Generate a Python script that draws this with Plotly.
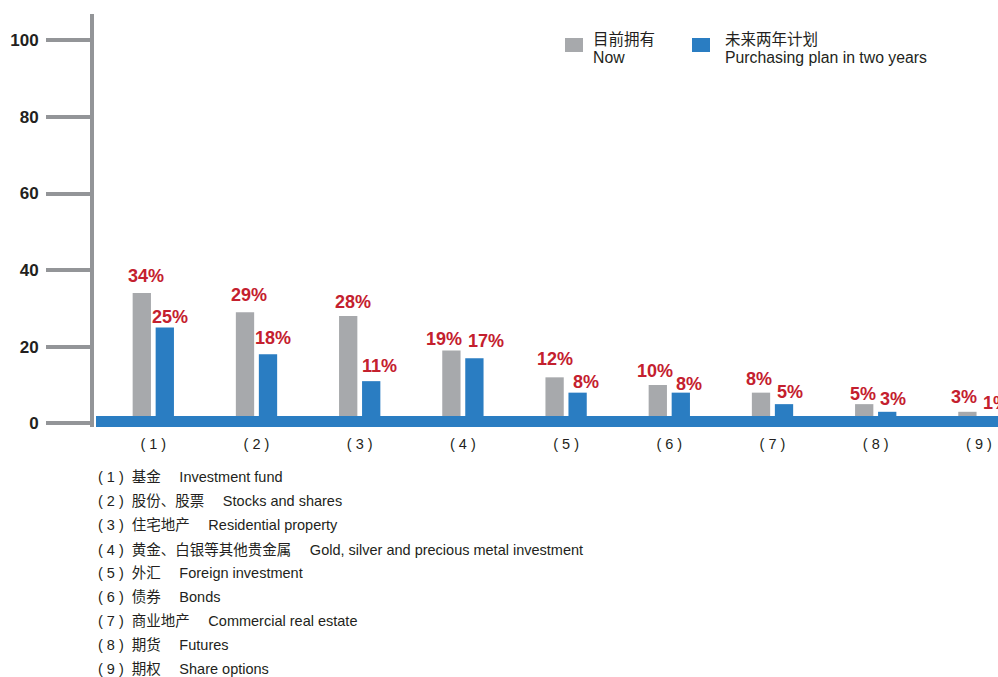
import plotly.graph_objects as go

# Survey results: share of respondents per investment type
categories = [1, 2, 3, 4, 5, 6, 7, 8, 9]
tick_labels = ["( 1 )", "( 2 )", "( 3 )", "( 4 )", "( 5 )", "( 6 )", "( 7 )", "( 8 )", "( 9 )"]
now_values = [34, 29, 28, 19, 12, 10, 8, 5, 3]
plan_values = [25, 18, 11, 17, 8, 8, 5, 3, 1]

series_names = [("目前拥有", "Now"), ("未来两年计划", "Purchasing plan in two years")]

item_names_cn = ["基金", "股份、股票", "住宅地产", "黄金、白银等其他贵金属", "外汇",
                 "债券", "商业地产", "期货", "期权"]
item_names_en = ["Investment fund", "Stocks and shares", "Residential property",
                 "Gold, silver and precious metal investment", "Foreign investment",
                 "Bonds", "Commercial real estate", "Futures", "Share options"]

y_ticks = [0, 20, 40, 60, 80, 100]

# Styling
GREY = "#a7a9ac"
BLUE = "#2a7dc2"
RED = "#c4202e"
AXIS_GREY = "#939598"
TEXT = "#231f20"
FONT = "Liberation Sans, Arial, Noto Sans CJK SC, sans-serif"

# hand-tuned nudges (px) for the value labels so neighbours don't collide
NOW_LABEL_DX = [4, 4, 5, -7, 0, -3, -2, -1, -3]
NOW_LABEL_GAP = [10, 10, 7, 5, 11, 7, 7, 3, 8]
PLAN_LABEL_DX = [5, 5, 8, 12, 8, 8, 6, 6, 6]
PLAN_LABEL_GAP = [4, 9, 8, 10, 4, 2, 5, 6, 9]
LABEL_PAD = 5

W, H = 998, 677
M_L, M_R, M_T, M_B = 94, 0, 14, 250
PLOT_W = W - M_L - M_R
PLOT_H = H - M_T - M_B

X_RANGE = [0.4254, 9.185]
Y_RANGE = [-0.97, 106.87]
BAR_W = 0.1773
GREY_OFF = -0.2001
BLUE_OFF = 0.0228

fig = go.Figure()
fig.add_trace(go.Bar(x=categories, y=now_values, width=BAR_W, offset=GREY_OFF,
                     marker=dict(color=GREY, line=dict(width=0)),
                     name=series_names[0][1], showlegend=False, hoverinfo="skip"))
fig.add_trace(go.Bar(x=categories, y=plan_values, width=BAR_W, offset=BLUE_OFF,
                     marker=dict(color=BLUE, line=dict(width=0)),
                     name=series_names[1][1], showlegend=False, hoverinfo="skip"))

annotations = []
# value labels above each bar
for values, off, dxs, gaps in [(now_values, GREY_OFF, NOW_LABEL_DX, NOW_LABEL_GAP),
                               (plan_values, BLUE_OFF, PLAN_LABEL_DX, PLAN_LABEL_GAP)]:
    for cat, v, dx, gap in zip(categories, values, dxs, gaps):
        annotations.append(dict(x=cat + off + BAR_W / 2, y=v, xref="x", yref="y",
                                text=f"{v}%", showarrow=False, xanchor="center",
                                yanchor="bottom", xshift=dx, yshift=gap - LABEL_PAD,
                                font=dict(family=FONT, size=18, color=RED, weight="bold")))


def px_x(px):
    return (px - M_L) / PLOT_W


# legend: swatches and two-line captions
shapes = []
for (cn, en), color, sx, tx in zip(series_names, [GREY, BLUE], [565, 692], [591, 723]):
    shapes.append(dict(type="rect", xref="paper", yref="paper",
                       x0=px_x(sx), x1=px_x(sx + 18),
                       y0=1 - (52 - M_T) / PLOT_H, y1=1 - (38 - M_T) / PLOT_H,
                       fillcolor=color, line=dict(width=0), layer="above"))
    annotations.append(dict(x=px_x(tx), y=1 - (39.7 - M_T) / PLOT_H,
                            xref="paper", yref="paper", text=cn, showarrow=False,
                            xanchor="left", yanchor="middle",
                            font=dict(family=FONT, size=15.5, color=TEXT)))
    annotations.append(dict(x=px_x(tx), y=1 - (57.5 - M_T) / PLOT_H,
                            xref="paper", yref="paper", text=en, showarrow=False,
                            xanchor="left", yanchor="middle",
                            font=dict(family=FONT, size=15.8, color=TEXT)))

# blue base band along the zero line
shapes.append(dict(type="rect", xref="paper", yref="y", x0=2 / PLOT_W, x1=1.0,
                   y0=Y_RANGE[0], y1=1.91, fillcolor=BLUE, line=dict(width=0),
                   layer="above"))

# key to the numbered categories
for i, (lab, cn, en) in enumerate(zip(tick_labels, item_names_cn, item_names_en)):
    annotations.append(dict(x=0, y=0, xref="paper", yref="paper",
                            text=f"{lab}\u00a0\u00a0{cn}\u3000\u00a0{en}",
                            showarrow=False, xanchor="left", yanchor="middle",
                            xshift=2, yshift=(H - M_B) - (477 + 24 * i),
                            font=dict(family=FONT, size=14.5, color=TEXT)))

fig.update_layout(
    width=W, height=H,
    margin=dict(l=M_L, r=M_R, t=M_T, b=M_B, pad=0),
    paper_bgcolor="white", plot_bgcolor="white",
    barmode="overlay",
    shapes=shapes, annotations=annotations,
    xaxis=dict(range=X_RANGE, tickvals=categories, ticktext=tick_labels,
               showgrid=False, zeroline=False, showline=False, ticks="",
               tickfont=dict(family=FONT, size=14.5, color=TEXT),
               ticklabelstandoff=6, fixedrange=True),
    yaxis=dict(range=Y_RANGE, tickvals=y_ticks, showgrid=False, zeroline=False,
               showline=True, linewidth=4, linecolor=AXIS_GREY,
               ticks="outside", ticklen=44, tickwidth=4, tickcolor=AXIS_GREY,
               tickfont=dict(family=FONT, size=17, color=TEXT, weight="bold"),
               ticklabelstandoff=4, fixedrange=True),
    showlegend=False,
)

fig.write_html("out.html", config={"displayModeBar": False})
